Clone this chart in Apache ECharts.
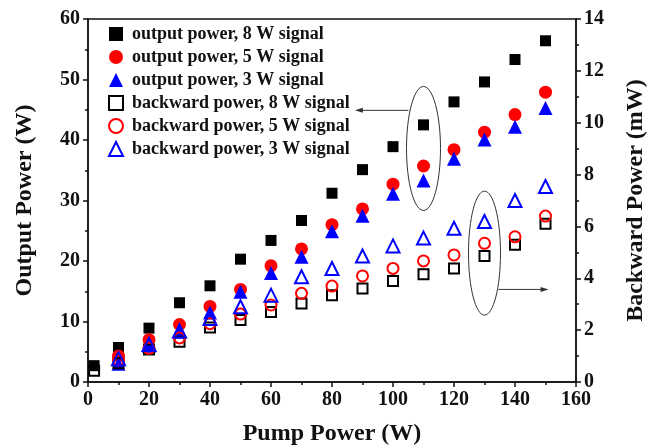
<!DOCTYPE html>
<html lang="en">
<head>
<meta charset="UTF-8">
<title>Output and backward power</title>
<script src="https://cdn.jsdelivr.net/npm/echarts@6/dist/echarts.min.js"></script>
<style>
    html, body { margin: 0; padding: 0; background: #fff; }
    #main { width: 647px; height: 447px; }
</style>
</head>
<body>
<div id="main"></div>
<script type="text/javascript">
    // pump power (W)
    var pump = [2, 10, 20, 30, 40, 50, 60, 70, 80, 90, 100, 110, 120, 130, 140, 150];

    // output power (W), left axis
    var out8 = [2.7, 5.7, 8.9, 13.1, 15.9, 20.3, 23.4, 26.7, 31.2, 35.1, 38.9, 42.5, 46.3, 49.6, 53.3, 56.4];
    var out5 = [null, 4.3, 7.0, 9.5, 12.5, 15.3, 19.2, 22.0, 26.0, 28.6, 32.7, 35.7, 38.4, 41.3, 44.2, 47.9];
    var out3 = [null, 3.0, 6.0, 8.3, 11.5, 14.9, 18.0, 20.7, 24.9, 27.5, 31.1, 33.3, 36.9, 40.1, 42.2, 45.3];

    // backward power (mW), right axis
    var back8 = [0.43, 0.72, 1.25, 1.55, 2.1, 2.39, 2.7, 3.03, 3.35, 3.61, 3.9, 4.16, 4.38, 4.86, 5.29, 6.1];
    var back5 = [null, 0.85, 1.3, 1.7, 2.25, 2.62, 2.97, 3.42, 3.7, 4.09, 4.38, 4.67, 4.9, 5.35, 5.6, 6.4];
    var back3 = [null, 0.9, 1.45, 1.97, 2.45, 2.9, 3.35, 4.06, 4.38, 4.86, 5.25, 5.55, 5.93, 6.19, 7.0, 7.54];

    var names = [
        'output power, 8 W signal',
        'output power, 5 W signal',
        'output power, 3 W signal',
        'backward power, 8 W signal',
        'backward power, 5 W signal',
        'backward power, 3 W signal'
    ];

    var FONT = '"Liberation Serif", "Times New Roman", serif';

    function pairs(vals) {
        var res = [];
        for (var i = 0; i < pump.length; i++) {
            if (vals[i] != null) res.push([pump[i], vals[i]]);
        }
        return res;
    }

    function filled(name, vals, symbol, size, color) {
        return {
            name: name, type: 'scatter', yAxisIndex: 0,
            symbol: symbol, symbolSize: size,
            itemStyle: {color: color, opacity: 1},
            data: pairs(vals)
        };
    }

    function hollow(name, vals, symbol, size, color) {
        return {
            name: name, type: 'scatter', yAxisIndex: 1,
            symbol: symbol, symbolSize: size,
            itemStyle: {color: 'rgba(255,255,255,0)', borderColor: color, borderWidth: 2, opacity: 1},
            data: pairs(vals)
        };
    }

    var axisText = {color: '#111', fontFamily: FONT, fontWeight: 'bold', fontSize: 20};
    var nameText = {color: '#111', fontFamily: FONT, fontWeight: 'bold', fontSize: 24};
    var lineStyle = {color: '#111', width: 1.5};

    var myChart = echarts.init(document.getElementById('main'));

    var option = {
        animation: false,
        backgroundColor: '#fff',
        grid: {
            left: 88, right: 71, top: 19, bottom: 65,
            outerBoundsMode: 'none',
            containLabel: false,
            show: true, borderColor: '#111', borderWidth: 1.5
        },
        legend: {
            orient: 'vertical',
            left: 103, top: 20,
            itemGap: 5,
            itemWidth: 14, itemHeight: 14,
            textStyle: {color: '#111', fontFamily: FONT, fontWeight: 'bold', fontSize: 18, lineHeight: 18,
                padding: [0, 0, 0, 4]},
            data: names
        },
        xAxis: {
            type: 'value', min: 0, max: 160, interval: 20,
            name: 'Pump Power (W)', nameLocation: 'middle', nameGap: 40,
            nameTextStyle: nameText,
            axisLine: {show: true, onZero: false, lineStyle: lineStyle},
            axisTick: {show: true, inside: false, length: 5, lineStyle: lineStyle},
            minorTick: {show: true, splitNumber: 2, length: 3, lineStyle: lineStyle},
            axisLabel: axisText,
            splitLine: {show: false}
        },
        yAxis: [
            {
                type: 'value', min: 0, max: 60, interval: 10, position: 'left',
                name: 'Output Power (W)', nameLocation: 'middle', nameGap: 51,
                nameTextStyle: nameText,
                axisLine: {show: true, lineStyle: lineStyle},
                axisTick: {show: true, inside: false, length: 5, lineStyle: lineStyle},
                minorTick: {show: true, splitNumber: 2, length: 3, lineStyle: lineStyle},
                axisLabel: axisText,
                splitLine: {show: false}
            },
            {
                type: 'value', min: 0, max: 14, interval: 2, position: 'right',
                name: 'Backward Power (mW)', nameLocation: 'middle', nameGap: 48,
                nameTextStyle: nameText,
                axisLine: {show: true, lineStyle: lineStyle},
                axisTick: {show: true, inside: false, length: 5, lineStyle: lineStyle},
                minorTick: {show: true, splitNumber: 2, length: 3, lineStyle: lineStyle},
                axisLabel: axisText,
                splitLine: {show: false}
            }
        ],
        series: [
            filled(names[0], out8, 'rect', 11, '#000000'),
            filled(names[1], out5, 'circle', 13, '#ff0000'),
            filled(names[2], out3, 'triangle', 14, '#0000ff'),
            hollow(names[3], back8, 'rect', 10, '#000000'),
            hollow(names[4], back5, 'circle', 11, '#ff0000'),
            hollow(names[5], back3, 'triangle', 13, '#0000ff')
        ]
    };

    myChart.setOption(option);

    // annotations: ellipses with arrows pointing to the matching axis
    function px(x, y) {
        return myChart.convertToPixel({xAxisIndex: 0, yAxisIndex: 0}, [x, y]);
    }
    var noteStyle = {stroke: '#333', lineWidth: 1, fill: null};
    var c1 = px(110, 38.6), a1 = px(110, 44.9), e1 = px(87.5, 44.9);
    var c2 = px(130, 21.3), a2 = px(130, 15.3), e2 = px(151, 15.3);
    var rx1 = 17, rx2 = 16;

    myChart.setOption({
        graphic: [
            {type: 'ellipse', shape: {cx: c1[0], cy: c1[1], rx: rx1, ry: 62}, style: noteStyle, z: 10},
            {type: 'line', shape: {x1: a1[0] - rx1 + 2, y1: a1[1], x2: e1[0] + 6, y2: e1[1]}, style: noteStyle, z: 10},
            {type: 'polygon', shape: {points: [[e1[0], e1[1]], [e1[0] + 8, e1[1] - 2.5], [e1[0] + 8, e1[1] + 2.5]]},
                style: {fill: '#333'}, z: 10},
            {type: 'ellipse', shape: {cx: c2[0], cy: c2[1], rx: rx2, ry: 62}, style: noteStyle, z: 10},
            {type: 'line', shape: {x1: a2[0] + rx2 - 2, y1: a2[1], x2: e2[0] - 6, y2: e2[1]}, style: noteStyle, z: 10},
            {type: 'polygon', shape: {points: [[e2[0], e2[1]], [e2[0] - 8, e2[1] - 2.5], [e2[0] - 8, e2[1] + 2.5]]},
                style: {fill: '#333'}, z: 10}
        ]
    });
</script>
</body>
</html>
